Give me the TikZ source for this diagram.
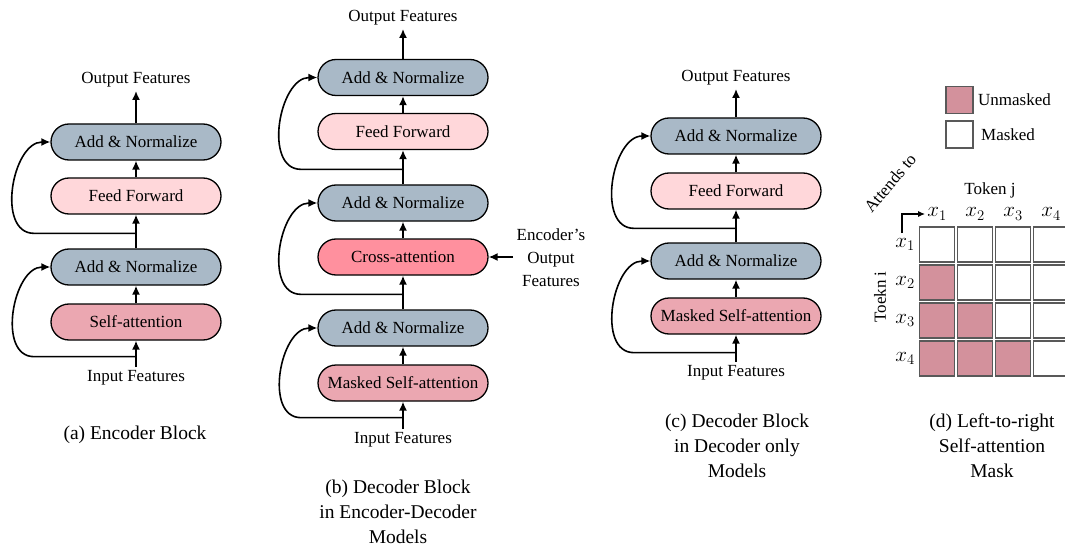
\RequirePackage{fix-cm}
\documentclass[tikz,border=0pt]{standalone}
\usepackage{fontspec}
\setmainfont{Liberation Serif}
\usepackage{tikz}
\usetikzlibrary{positioning, arrows.meta}

\begin{document}
\begin{tikzpicture}[x=1pt, y=-1pt,
        block/.style={rectangle, rounded corners=18pt, draw, line width=1.3pt,
            minimum width=170pt, minimum height=36pt, inner sep=0pt,
            font=\fontsize{17}{20}\selectfont},
        lbl/.style={font=\fontsize{17}{23}\selectfont, align=center},
        mathlbl/.style={font=\fontsize{21}{24}\selectfont, inner sep=1pt},
        subcap/.style={font=\fontsize{19.5}{25}\selectfont, align=center},
        arr/.style={line width=1.6pt, -{Latex[length=9pt,width=8pt]}},
        resid/.style={line width=1.6pt, -{Latex[length=9pt,width=8pt]}},
        cell/.style={draw=black!65, line width=1.2pt, minimum size=35pt, inner sep=0pt}]
        \definecolor{normblue}{HTML}{A9B9C7}
        \definecolor{ffpink}{HTML}{FFD7DA}
        \definecolor{attnpink}{HTML}{EBA7B1}
        \definecolor{crosspink}{HTML}{FF909E}
        \definecolor{maskpink}{HTML}{D3919C}
        \useasboundingbox (0,0) rectangle (1065,548);

        % (a) encoder block
        \node[block, fill=attnpink] (saA) at (136,322) {Self-attention};
        \node[block, fill=normblue] (anA1) at (136,267) {Add \& Normalize};
        \node[block, fill=ffpink] (ffA) at (136,196) {Feed Forward};
        \node[block, fill=normblue] (anA2) at (136,142) {Add \& Normalize};
        \node[lbl] (inA) at (136,378) {Input Features};
        \node[lbl] (outA) at (136,80) {Output Features};
        \node[subcap] (capA) at (135,435) {(a) Encoder Block};
        \coordinate[below=16pt of saA.south] (brA1);
        \coordinate[above=15pt of anA1.north] (brA2);
        \draw[arr] (inA.north) -- (saA.south);
        \draw[arr] (saA) -- (anA1);
        \draw[arr] (anA1) -- (ffA);
        \draw[arr] (ffA) -- (anA2);
        \draw[arr] (anA2) -- (outA);
        \draw[resid] (brA1) -- ++(-102,0) to[out=180, in=180, looseness=1.05] (anA1.west);
        \draw[resid] (brA2) -- ++(-102,0) to[out=180, in=180, looseness=1.05] (anA2.west);

        % (b) decoder block, encoder-decoder
        \node[block, fill=attnpink] (msaB) at (403,383) {Masked Self-attention};
        \node[block, fill=normblue] (anB1) at (403,328) {Add \& Normalize};
        \node[block, fill=crosspink] (caB) at (403,257) {Cross-attention};
        \node[block, fill=normblue] (anB2) at (403,203) {Add \& Normalize};
        \node[block, fill=ffpink] (ffB) at (403,131.5) {Feed Forward};
        \node[block, fill=normblue] (anB3) at (403,77.5) {Add \& Normalize};
        \node[lbl] (inB) at (403,440) {Input Features};
        \node[lbl] (outB) at (403,18) {Output Features};
        \node[lbl] (encB) at (551,258) {Encoder's\\Output\\Features};
        \node[subcap] (capB) at (398,512) {(b) Decoder Block\\in Encoder-Decoder\\Models};
        \coordinate[below=16pt of msaB.south] (brB1);
        \coordinate[above=15pt of anB1.north] (brB2);
        \coordinate[above=15pt of anB2.north] (brB3);
        \draw[arr] (inB.north) -- (msaB.south);
        \draw[arr] (msaB) -- (anB1);
        \draw[arr] (anB1) -- (caB);
        \draw[arr] (caB) -- (anB2);
        \draw[arr] (anB2) -- (ffB);
        \draw[arr] (ffB) -- (anB3);
        \draw[arr] (anB3) -- (outB);
        \draw[arr] (encB.west |- caB.east) -- (caB.east);
        \draw[resid] (brB1) -- ++(-102,0) to[out=180, in=180, looseness=1.05] (anB1.west);
        \draw[resid] (brB2) -- ++(-102,0) to[out=180, in=180, looseness=1.05] (anB2.west);
        \draw[resid] (brB3) -- ++(-102,0) to[out=180, in=180, looseness=1.05] (anB3.west);

        % (c) decoder block, decoder only
        \node[block, fill=attnpink] (msaC) at (736,316) {Masked Self-attention};
        \node[block, fill=normblue] (anC1) at (736,261) {Add \& Normalize};
        \node[block, fill=ffpink] (ffC) at (736,191) {Feed Forward};
        \node[block, fill=normblue] (anC2) at (736,136) {Add \& Normalize};
        \node[lbl] (inC) at (736,373) {Input Features};
        \node[lbl] (outC) at (736,78) {Output Features};
        \node[subcap] (capC) at (737,446) {(c) Decoder Block\\in Decoder only\\Models};
        \coordinate[below=18pt of msaC.south] (brC1);
        \coordinate[above=14pt of anC1.north] (brC2);
        \draw[arr] (inC.north) -- (msaC.south);
        \draw[arr] (msaC) -- (anC1);
        \draw[arr] (anC1) -- (ffC);
        \draw[arr] (ffC) -- (anC2);
        \draw[arr] (anC2) -- (outC);
        \draw[resid] (brC1) -- ++(-102,0) to[out=180, in=180, looseness=1.05] (anC1.west);
        \draw[resid] (brC2) -- ++(-102,0) to[out=180, in=180, looseness=1.05] (anC2.west);

        % (d) mask
        \node[cell, minimum size=27pt, fill=maskpink] (legU) at (959.5,100) {};
        \node[cell, minimum size=27pt] (legM) at (959.5,134.5) {};
        \node[lbl, right=1pt of legU] (legUtxt) {Unmasked};
        \node[lbl, right=4pt of legM] (legMtxt) {Masked};
        \foreach \i in {1,...,4} {
            \foreach \j in {1,...,4} {
                \node[cell] (c\i\j) at ({937+38*(\j-1)},{244.5+38*(\i-1)}) {};
            }
            \node[mathlbl] (col\i) at ({937+38*(\i-1)},214) {$x_\i$};
            \node[mathlbl] (row\i) at (905,{244.5+38*(\i-1)}) {$x_\i$};
        }
        \foreach \i/\j in {2/1, 3/1, 3/2, 4/1, 4/2, 4/3}
            \node[cell, fill=maskpink] at (c\i\j) {};
        \node[lbl] (tokj) at (990,190) {Token j};
        \node[lbl, rotate=90] (toki) at (880,297) {Toekn i};
        \node[lbl, rotate=50, inner sep=1pt] (att) at (890,183) {Attends to};
        \coordinate (attstart) at (902,233);
        \draw[line width=1.2pt, -{Latex[length=7pt,width=6pt]}] (attstart) |- ([xshift=-1pt]col1.west);
        \node[subcap] (capD) at (992,446) {(d) Left-to-right\\Self-attention\\Mask};
    \end{tikzpicture}
\end{document}
